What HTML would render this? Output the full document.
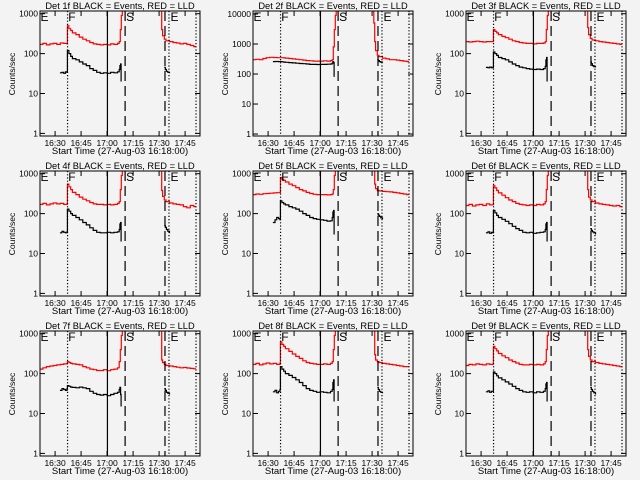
<!DOCTYPE html>
<html><head><meta charset="utf-8">
<style>
html,body{margin:0;padding:0;background:#f3f3f3;}
svg{display:block;font-family:"Liberation Sans",sans-serif;}
</style></head>
<body>
<svg id="chart" width="640" height="480" viewBox="0 0 640 480" xmlns="http://www.w3.org/2000/svg">
<rect x="0" y="0" width="640" height="480" fill="#f3f3f3"/>
</svg>
<script>
// ---- data (minutes after 16:00, counts/sec) ----
const detNames = ["1f","2f","3f","4f","5f","6f","7f","8f","9f"];
const xTickMinutes = [30,45,60,75,90,105];
const xTickLabels = ["16:30","16:45","17:00","17:15","17:30","17:45"];
const markerTimes = [37.2,60.2,70.4,93.4,95.7,111.3];
const markerStyles = ["dot","solid","dash","dash","dot","dot"];
const markerLetters = ["E","F","S","E"];
const letterTimes = [21.6,37.6,71.0,96.6];
const yMaxTop = [1170,12600,1170,1170,1170,1170,1170,1170,1170];
const yTicksSmall = [1,10,100,1000];
const yTicksBig = [1,10,100,1000,10000];

const redT1 = [21.3,23,25,27,29,31,33,35,36.9,37.1,38,39,40,42,44,46,48,50,52,54,56,58,60,62,64,66,67,67.6,68.2,68.8,69.3];
const redT2 = [90.6,91,91.5,92,93,94,96,98,100,102,104,106,108,110,111];
const blkT1 = [32.8,34,35,36,36.9,37.1,38,39,40,42,44,46,48,50,52,54,56,58,60,62,64,66,67,67.4,67.8,68.1];
const blkT2 = [93.0,93.6,94.2,95,96];

const red1a=[170,180,165,175,180,170,185,180,175,500,420,380,330,300,260,230,210,190,175,170,165,170,165,175,170,180,200,400,900,2000,3000];
const red1b=[3000,1500,400,280,230,210,200,190,185,175,180,170,160,150,145];
const blk1a=[33,34,32,35,34,120,100,85,75,70,62,55,50,42,38,34,32,33,32,34,33,35,40,50,55,20];
const blk1b=[45,40,36,34,32];

const red2a=[300,310,300,330,350,360,355,350,350,350,350,345,340,330,320,310,300,290,280,275,270,270,270,275,270,280,300,800,3000,9000,20000];
const red2b=[20000,5000,1200,600,420,380,340,320,300,300,290,280,270,260,250];
const blk2a=[260,262,262,260,260,260,255,250,245,240,235,230,225,220,215,210,210,208,210,210,212,215,230,260,240,80];
const blk2b=[300,280,260,250,240];

const red3a=[200,195,200,205,200,195,200,200,200,400,360,330,300,270,250,230,210,200,190,185,180,180,175,180,180,185,200,400,900,2000,3000];
const red3b=[3000,1500,450,300,240,220,210,200,195,190,185,180,175,170,165];
const blk3a=[45,44,46,44,45,110,100,90,80,75,70,62,55,50,46,44,42,41,40,41,40,42,48,70,80,20];
const blk3b=[62,56,50,47,45];

const red4a=[170,180,165,175,185,175,180,170,175,550,470,400,340,300,260,230,210,190,175,170,170,165,170,165,170,180,200,400,900,2000,3000];
const red4b=[3000,1500,380,270,220,200,185,175,170,165,150,140,160,150,145];
const blk4a=[33,36,34,33,35,130,115,100,90,80,70,60,52,44,38,34,33,33,34,33,34,35,40,55,60,20];
const blk4b=[50,45,40,36,32];

const red5a=[300,310,305,315,320,325,330,335,340,800,720,680,620,550,500,450,400,370,340,320,305,300,300,300,295,300,310,400,900,2000,3000];
const red5b=[3000,1200,550,420,380,370,360,355,350,340,330,320,310,300,295];
const blk5a=[60,70,80,75,70,210,190,175,165,150,140,130,115,100,90,80,75,72,70,68,65,66,80,110,120,30];
const blk5b=[100,92,85,78,72];

const red6a=[160,170,155,165,170,160,175,165,170,500,440,380,330,290,250,220,200,180,170,165,160,165,160,170,165,175,200,400,900,2000,3000];
const red6b=[3000,1500,400,260,220,200,185,175,170,165,160,155,160,150,145];
const blk6a=[33,35,32,34,33,120,105,90,80,72,64,56,48,42,38,34,33,34,32,33,34,35,40,55,60,20];
const blk6b=[42,38,35,33,30];

const red7a=[130,140,150,155,160,165,170,175,180,200,190,180,175,170,165,150,140,130,125,120,120,125,118,125,130,140,200,400,900,2000,3000];
const red7b=[3000,1500,220,190,170,160,155,150,145,140,142,138,135,132,130];
const blk7a=[38,42,40,38,42,50,48,46,45,44,46,44,42,36,32,30,29,30,28,30,32,34,40,45,30,15];
const blk7b=[42,38,34,32,30];

const red8a=[170,180,165,175,185,175,180,170,185,620,540,480,420,360,310,270,240,210,190,180,175,170,170,175,170,180,200,400,900,2000,3000];
const red8b=[3000,1500,300,220,200,190,180,175,170,165,160,155,150,150,145];
const blk8a=[35,38,33,36,40,150,130,115,100,90,80,70,60,50,42,38,36,34,35,34,33,36,40,60,70,20];
const blk8b=[45,40,36,34,32];

const red9a=[160,170,165,175,170,165,175,170,175,480,420,370,320,280,250,220,200,185,170,165,165,170,165,170,165,175,200,400,900,2000,3000];
const red9b=[3000,1500,400,270,220,200,190,180,175,170,165,160,155,150,145];
const blk9a=[35,37,34,36,36,110,100,88,78,70,62,55,48,42,38,35,34,35,33,35,34,36,42,55,60,20];
const blk9b=[45,40,36,33,30];

const redA=[red1a,red2a,red3a,red4a,red5a,red6a,red7a,red8a,red9a];
const redB=[red1b,red2b,red3b,red4b,red5b,red6b,red7b,red8b,red9b];
const blkA=[blk1a,blk2a,blk3a,blk4a,blk5a,blk6a,blk7a,blk8a,blk9a];
const blkB=[blk1b,blk2b,blk3b,blk4b,blk5b,blk6b,blk7b,blk8b,blk9b];

const NS="http://www.w3.org/2000/svg";
const svg=document.getElementById('chart');
function mk(tag,attrs,parent){const e=document.createElementNS(NS,tag);for(const k in attrs)e.setAttribute(k,attrs[k]);(parent||svg).appendChild(e);return e;}

const X0=21.3,X1=113.6,YMIN=0.86;
for(let p=0;p<9;p++){
  const col=p%3,row=Math.floor(p/3);
  const ox=[0,213,426][col], oy=row*160;
  const L=ox+40,R=ox+200,T=oy+11,B=oy+136;
  const top=yMaxTop[p];
  const xs=t=>L+(t-X0)/(X1-X0)*(R-L);
  const ys=v=>B-(Math.log10(v)-Math.log10(YMIN))/(Math.log10(top)-Math.log10(YMIN))*(B-T);
  const g=mk('g',{});
  
  
  const cid='clip'+p;
  const cp=mk('clipPath',{id:cid},g);mk('rect',{x:L,y:T,width:R-L,height:B-T},cp);
  const title=mk('text',{x:(L+R)/2,y:oy+9,'font-size':'9.3','text-anchor':'middle',fill:'#000'},g);
  title.textContent='Det '+detNames[p]+' BLACK = Events, RED = LLD';
  
  
  const yl=mk('text',{x:0,y:0,'font-size':'8.5','text-anchor':'middle',fill:'#000',transform:'translate('+(ox+15)+','+(oy+74)+') rotate(-90)'},g);
  yl.textContent='Counts/sec';
  
  
  const xl=mk('text',{x:(L+R)/2,y:oy+154,'font-size':'9.5','text-anchor':'middle',fill:'#000'},g);
  xl.textContent='Start Time (27-Aug-03 16:18:00)';
  
  
  const yt=(top>5000)?yTicksBig:yTicksSmall;
  yt.forEach(v=>{
    const y=ys(v);
    mk('line',{x1:L,x2:L+5,y1:y,y2:y,stroke:'#000','stroke-width':1},g);
    mk('line',{x1:R-5,x2:R,y1:y,y2:y,stroke:'#000','stroke-width':1},g);
    const tl=mk('text',{x:L-2,y:y+3,'font-size':'8.5','text-anchor':'end',fill:'#000'},g);
    tl.textContent=String(v);
    
    
  });
  xTickMinutes.forEach((m,i)=>{
    const x=xs(m);
    mk('line',{x1:x,x2:x,y1:B,y2:B-5,stroke:'#000','stroke-width':1},g);
    mk('line',{x1:x,x2:x,y1:T,y2:T+5,stroke:'#000','stroke-width':1},g);
    const tl=mk('text',{x:x,y:oy+146,'font-size':'8.5','text-anchor':'middle',fill:'#000'},g);
    tl.textContent=xTickLabels[i];
    
    
  });
  const cg=mk('g',{'clip-path':'url(#'+cid+')'},g);
  function line(ts,vs,color,name){
    let d='';
    for(let i=0;i<ts.length;i++){
      const x=xs(ts[i]),y=ys(vs[i]);
      if(i===0)d+='M'+x.toFixed(1)+','+y.toFixed(1);
      else d+='H'+x.toFixed(1)+'V'+y.toFixed(1);
    }
    const e=mk('path',{d:d,fill:'none',stroke:color,'stroke-width':1.2},cg);
    
    
  }
  line(redT1,redA[p],'#ff0000','lld-series-before');
  line(redT2,redB[p],'#ff0000','lld-series-after');
  line(blkT1,blkA[p],'#000','events-series-before');
  line(blkT2,blkB[p],'#000','events-series-after');
  markerTimes.forEach((m,i)=>{
    const x=xs(m);
    const st=markerStyles[i];
    const attrs={x1:x,x2:x,y1:T,y2:B,stroke:'#000','stroke-width':1.2};
    if(st==='dot')attrs['stroke-dasharray']='1.2,2';
    if(st==='dash')attrs['stroke-dasharray']='10,5';
    const e=mk('line',attrs,g);
    
    
  });
  markerLetters.forEach((s,i)=>{
    const e=mk('text',{x:xs(letterTimes[i]),y:T+10,'font-size':'12',fill:'#000'},g);
    e.textContent=s;
    
    
  });
  const fr=mk('rect',{x:L,y:T,width:R-L,height:B-T,fill:'none',stroke:'#000','stroke-width':1},g);
  
  
}
</script>
</body></html>
